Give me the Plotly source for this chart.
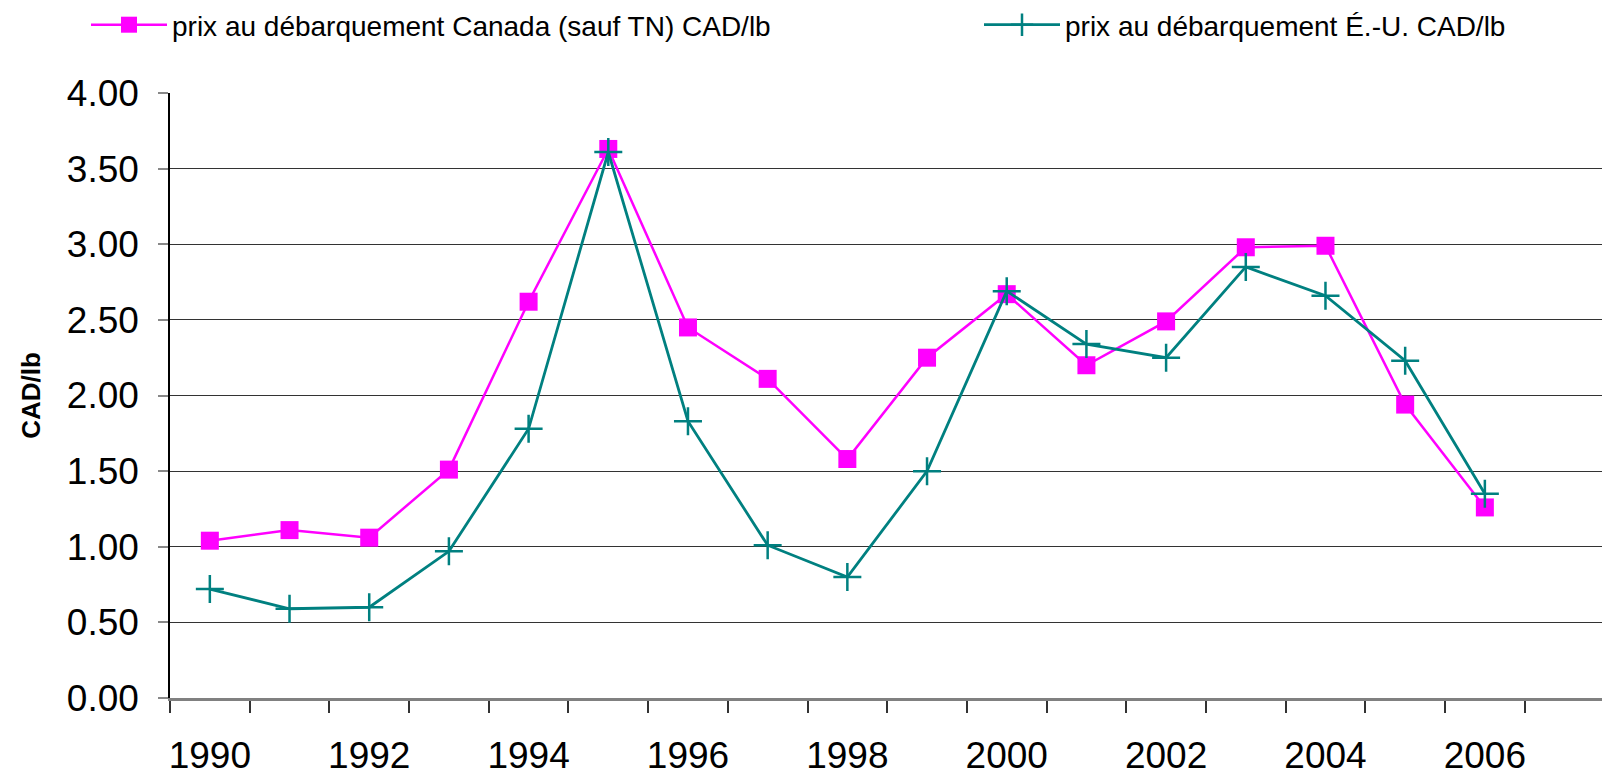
import plotly.graph_objects as go

# années (catégories), 2007 reste vide sur l'axe
annees = list(range(1990, 2007))
annees_axe = list(range(1990, 2008))

prix_canada = [1.04, 1.11, 1.06, 1.51, 2.62, 3.63, 2.45, 2.11, 1.58, 2.25,
               2.67, 2.20, 2.49, 2.98, 2.99, 1.94, 1.26]
prix_eu = [0.72, 0.59, 0.60, 0.97, 1.78, 3.61, 1.83, 1.01, 0.80, 1.50,
           2.69, 2.34, 2.25, 2.85, 2.66, 2.23, 1.35]

etiquettes_x = [a for a in annees_axe if a % 2 == 0 and a <= 2006]
valeurs_y = [0, 0.5, 1, 1.5, 2, 2.5, 3, 3.5, 4]

police = "Liberation Sans, Arial, sans-serif"

fig = go.Figure()

fig.add_trace(go.Scatter(
    x=annees, y=prix_canada,
    name="prix au débarquement Canada (sauf TN) CAD/lb",
    mode="lines+markers",
    line=dict(color="#FF00FF", width=2.5),
    marker=dict(symbol="square", size=18, color="#FF00FF"),
    legend="legend", showlegend=True,
))

fig.add_trace(go.Scatter(
    x=annees, y=prix_eu,
    name="prix au débarquement É.-U. CAD/lb",
    mode="lines+markers",
    line=dict(color="#008080", width=2.8),
    marker=dict(symbol="cross-thin", size=20,
                line=dict(color="#008080", width=2.5)),
    legend="legend2", showlegend=True,
))

legende = dict(
    orientation="h",
    xref="container", yref="container",
    y=1.0, xanchor="left", yanchor="top",
    itemwidth=76,
    font=dict(size=28, family=police),
    bgcolor="rgba(0,0,0,0)",
)

fig.update_layout(
    width=1602, height=770,
    showlegend=True,
    margin=dict(l=170, r=0, t=93, b=72),
    plot_bgcolor="white",
    paper_bgcolor="white",
    font=dict(family=police, color="black"),
    legend=dict(legende, x=86 / 1602),
    legend2=dict(legende, x=979 / 1602),
    xaxis=dict(
        range=[1989.5, 2007.47],
        tickvals=etiquettes_x,
        ticktext=[str(a) for a in etiquettes_x],
        ticks="outside", ticklen=23, tickcolor="rgba(0,0,0,0)",
        tickfont=dict(size=37),
        showgrid=False,
        showline=True, linecolor="#808080", linewidth=3,
        minor=dict(
            tickvals=[a - 0.5 for a in annees_axe],
            ticks="outside", ticklen=12, tickcolor="#333333", tickwidth=1.5,
            showgrid=False,
        ),
        zeroline=False,
        automargin=False,
    ),
    yaxis=dict(
        range=[0, 4],
        tickvals=valeurs_y,
        tickformat=".2f",
        tickfont=dict(size=37),
        ticks="outside", ticklen=10, tickcolor="#888888", tickwidth=1.5,
        ticklabelstandoff=12,
        showgrid=True, gridcolor="#333333", gridwidth=1.2,
        showline=True, linecolor="black", linewidth=1.5,
        zeroline=False,
        automargin=False,
        title=dict(text="<b>CAD/lb</b>", font=dict(size=26), standoff=19),
    ),
)

# la page HTML ajoute une marge de 8 px autour du graphique
fig.write_html("out.html", config={"displayModeBar": False},
               post_script="document.body.style.margin='0';")
